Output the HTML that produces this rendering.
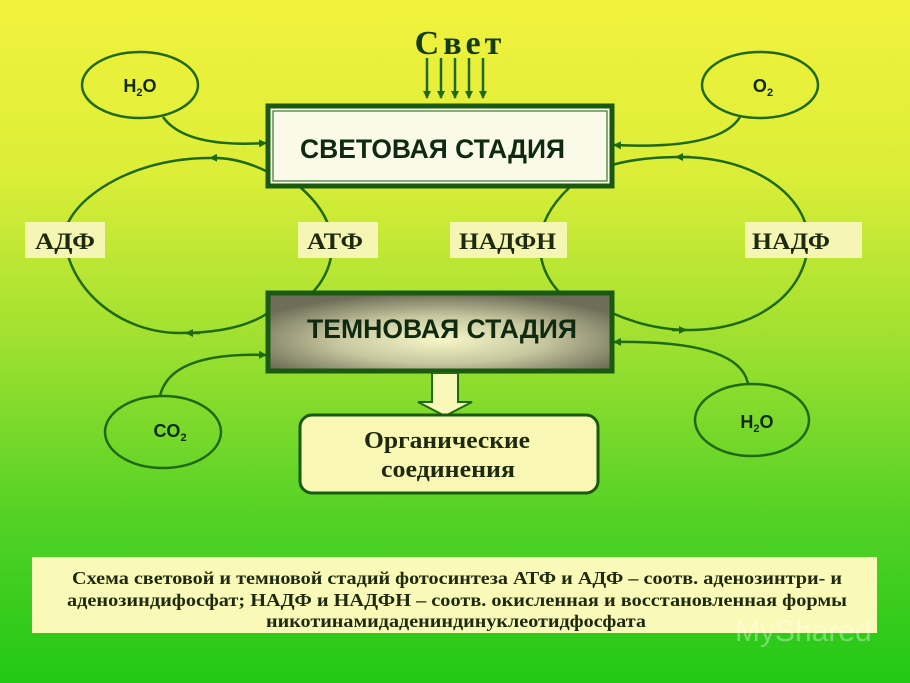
<!DOCTYPE html>
<html><head><meta charset="utf-8"><style>
html,body{margin:0;padding:0;width:910px;height:683px;overflow:hidden}
svg{display:block}
.s{font-family:"Liberation Sans","DejaVu Sans",sans-serif;font-weight:bold;fill:#0f2a10}
.r{font-family:"Liberation Serif","DejaVu Serif",serif;font-weight:bold;fill:#1e2a10}
</style></head><body>
<svg width="910" height="683" viewBox="0 0 910 683" xmlns="http://www.w3.org/2000/svg">
<defs>
<linearGradient id="bg" x1="0" y1="0" x2="0" y2="1">
<stop offset="0" stop-color="#f2f23c"/>
<stop offset="0.25" stop-color="#dcee38"/>
<stop offset="0.5" stop-color="#9fe030"/>
<stop offset="0.75" stop-color="#55d226"/>
<stop offset="1" stop-color="#22c816"/>
</linearGradient>
<radialGradient id="dk" cx="0.5" cy="0.6" r="0.6">
<stop offset="0" stop-color="#f6f6c8"/>
<stop offset="0.5" stop-color="#c8c8a0"/>
<stop offset="1" stop-color="#6e6e58"/>
</radialGradient>
<marker id="a" markerWidth="8" markerHeight="8" refX="7" refY="4" orient="auto" markerUnits="userSpaceOnUse">
<path d="M0,0 L8,4 L0,8 z" fill="#1f6a10"/></marker>
</defs>
<rect width="910" height="683" fill="url(#bg)"/>
<g fill="none" stroke="#1f6a10" stroke-width="2.5">
<ellipse cx="140" cy="85" rx="58" ry="33"/>
<ellipse cx="760" cy="85" rx="58" ry="33"/>
<ellipse cx="163" cy="432" rx="58" ry="36"/>
<ellipse cx="752" cy="420" rx="57" ry="36"/>
<path d="M163,117 Q185,148 266,143" marker-end="url(#a)"/>
<path d="M740,117 Q720,150 614,145" marker-end="url(#a)"/>
<path d="M160,396 Q170,352 266,355" marker-end="url(#a)"/>
<path d="M748,384 Q740,340 614,342" marker-end="url(#a)"/>
<!-- left loop -->
<path d="M268,172 Q238,157 210,158" marker-end="url(#a)"/>
<path d="M210,158 C120,158 60,210 65,240 C70,290 120,333 180,333" />
<path d="M268,313 Q238,333 180,333" />
<path d="M200,333 L186,333" marker-end="url(#a)"/>
<!-- inner -->
<path d="M300,187 Q332,215 332,245 Q332,272 312,293"/>
<path d="M570,187 Q540,215 540,245 Q540,272 560,293"/>
<!-- right loop -->
<path d="M612,165 Q640,157 680,157 C760,157 808,200 808,240 C808,290 760,330 690,330 Q650,330 612,313"/>
<path d="M690,157 L676,157" marker-end="url(#a)"/>
<path d="M672,330 L686,330" marker-end="url(#a)"/>
<!-- light arrows -->
<path d="M427,58 V98" marker-end="url(#a)"/>
<path d="M441,58 V98" marker-end="url(#a)"/>
<path d="M455,58 V98" marker-end="url(#a)"/>
<path d="M469,58 V98" marker-end="url(#a)"/>
<path d="M483,58 V98" marker-end="url(#a)"/>
</g>
<text x="460" y="54" text-anchor="middle" class="r" font-size="34" letter-spacing="4" style="fill:#143c10">Свет</text>
<rect x="268" y="106" width="344" height="80" fill="#fafae8" stroke="#1a5a10" stroke-width="5"/>
<rect x="273" y="111" width="334" height="70" fill="none" stroke="#1a5a10" stroke-width="1"/>
<text x="300" y="158" class="s" font-size="27" textLength="265" lengthAdjust="spacingAndGlyphs">СВЕТОВАЯ  СТАДИЯ</text>
<rect x="268" y="293" width="344" height="78" fill="url(#dk)" stroke="#1a5a10" stroke-width="5"/>
<text x="307" y="338" class="s" font-size="27" textLength="270" lengthAdjust="spacingAndGlyphs">ТЕМНОВАЯ  СТАДИЯ</text>
<g fill="#f5f6b4">
<rect x="25" y="222" width="80" height="36"/>
<rect x="298" y="222" width="80" height="36"/>
<rect x="450" y="222" width="117" height="36"/>
<rect x="745" y="222" width="117" height="36"/>
</g>
<g class="r" font-size="23">
<text x="35" y="249" class="r" textLength="60" lengthAdjust="spacingAndGlyphs">АДФ</text>
<text x="307" y="249" class="r" textLength="56" lengthAdjust="spacingAndGlyphs">АТФ</text>
<text x="459" y="249" class="r" textLength="97" lengthAdjust="spacingAndGlyphs">НАДФН</text>
<text x="752" y="249" class="r" textLength="78" lengthAdjust="spacingAndGlyphs">НАДФ</text>
</g>
<g class="s" font-size="18">
<text x="140" y="92" text-anchor="middle" class="s">H<tspan font-size="11" dy="4">2</tspan><tspan dy="-4">O</tspan></text>
<text x="763" y="92" text-anchor="middle" class="s">O<tspan font-size="11" dy="4">2</tspan></text>
<text x="170" y="437" text-anchor="middle" class="s">CO<tspan font-size="11" dy="4">2</tspan></text>
<text x="757" y="428" text-anchor="middle" class="s">H<tspan font-size="11" dy="4">2</tspan><tspan dy="-4">O</tspan></text>
</g>
<path d="M432,373 H458 V402 H472 L445,416 L418,402 H432 Z" fill="#f8f8b8" stroke="#1f6a10" stroke-width="2"/>
<rect x="300" y="415" width="298" height="78" rx="12" fill="#f8f8b4" stroke="#1a5a10" stroke-width="3"/>
<text x="364" y="448" class="r" font-size="24" textLength="166" lengthAdjust="spacingAndGlyphs">Органические</text>
<text x="381" y="477" class="r" font-size="24" textLength="134" lengthAdjust="spacingAndGlyphs">соединения</text>
<rect x="32" y="557" width="845" height="76" fill="#fafab8"/>
<g class="r" font-size="18">
<text x="72" y="584" textLength="770" lengthAdjust="spacingAndGlyphs">Схема световой и темновой стадий фотосинтеза АТФ и АДФ – соотв. аденозинтри- и</text>
<text x="67" y="606" textLength="780" lengthAdjust="spacingAndGlyphs">аденозиндифосфат; НАДФ и НАДФН – соотв. окисленная и восстановленная формы</text>
<text x="266" y="627" textLength="380" lengthAdjust="spacingAndGlyphs">никотинамидадениндинуклеотидфосфата</text>
</g>
<text x="735" y="641" font-family="Liberation Sans,sans-serif" font-size="30" fill="#ffffff" fill-opacity="0.35">MyShared</text>
</svg>
</body></html>
